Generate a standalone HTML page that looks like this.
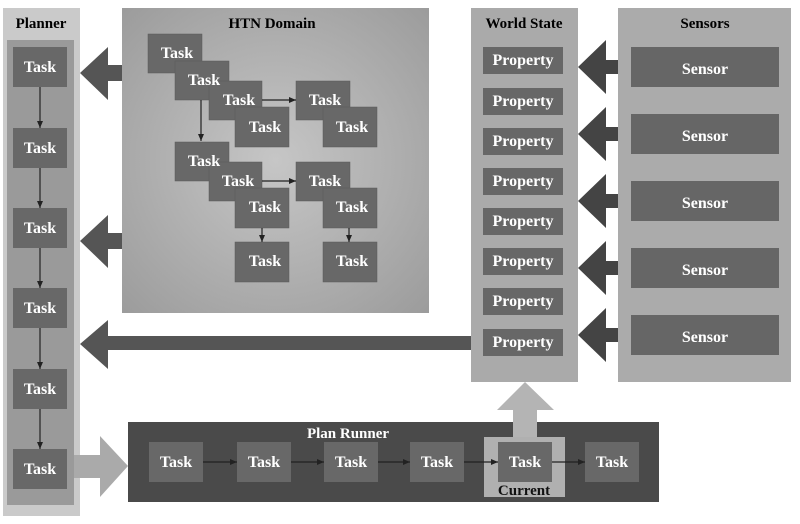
<!DOCTYPE html>
<html><head><meta charset="utf-8"><style>
body{margin:0;background:#fff;}
svg text{font-family:"Liberation Serif",serif;}
</style></head><body>
<svg width="800" height="519" viewBox="0 0 800 519" xmlns="http://www.w3.org/2000/svg">
<defs>
<radialGradient id="g1" cx="50%" cy="50%" r="70%"><stop offset="0" stop-color="#c6c6c6"/><stop offset="1" stop-color="#9c9c9c"/></radialGradient>
<marker id="a" markerWidth="8" markerHeight="8" refX="7" refY="4" orient="auto" markerUnits="userSpaceOnUse"><path d="M0,1 L7,4 L0,7z" fill="#222"/></marker>
</defs>
<!-- Planner -->
<rect x="3" y="8" width="77" height="508" fill="#cacaca"/>
<rect x="7" y="40" width="67" height="465" fill="#9a9a9a"/>
<text x="41" y="28" text-anchor="middle" font-size="15" font-weight="bold">Planner</text>
<g fill="#686868">
<rect x="13" y="47" width="54" height="40"/><rect x="13" y="128" width="54" height="40"/><rect x="13" y="208" width="54" height="40"/><rect x="13" y="288" width="54" height="40"/><rect x="13" y="369" width="54" height="40"/><rect x="13" y="449" width="54" height="40"/>
</g>
<g stroke="#222" stroke-width="1.2" marker-end="url(#a)">
<line x1="40" y1="87" x2="40" y2="128"/><line x1="40" y1="168" x2="40" y2="208"/><line x1="40" y1="248" x2="40" y2="288"/><line x1="40" y1="328" x2="40" y2="369"/><line x1="40" y1="409" x2="40" y2="449"/>
</g>
<g fill="#fff" font-size="16" text-anchor="middle" font-weight="bold">
<text x="40" y="72">Task</text><text x="40" y="153">Task</text><text x="40" y="233">Task</text><text x="40" y="313">Task</text><text x="40" y="394">Task</text><text x="40" y="474">Task</text>
</g>
<!-- HTN -->
<rect x="122" y="8" width="307" height="305" fill="url(#g1)"/>
<text x="272" y="28" text-anchor="middle" font-size="15" font-weight="bold">HTN Domain</text>
<g fill="#686868" stroke="#5a5a5a" stroke-width="0.5">
<rect x="148" y="34" width="54" height="39"/><rect x="175" y="61" width="54" height="39"/><rect x="209" y="81" width="53" height="39"/><rect x="235" y="107" width="54" height="40"/>
<rect x="296" y="81" width="54" height="39"/><rect x="323" y="107" width="54" height="40"/>
<rect x="175" y="142" width="54" height="39"/><rect x="209" y="162" width="53" height="39"/><rect x="235" y="188" width="54" height="40"/>
<rect x="296" y="162" width="54" height="39"/><rect x="323" y="188" width="54" height="40"/>
<rect x="235" y="242" width="54" height="40"/><rect x="323" y="242" width="54" height="40"/>
</g>
<g stroke="#222" stroke-width="1.2" marker-end="url(#a)">
<line x1="201" y1="100" x2="201" y2="141"/><line x1="262" y1="100" x2="296" y2="100"/><line x1="262" y1="181" x2="296" y2="181"/><line x1="262" y1="228" x2="262" y2="242"/><line x1="349" y1="228" x2="349" y2="242"/>
</g>
<g fill="#fff" font-size="16" text-anchor="middle" font-weight="bold">
<text x="177" y="58">Task</text><text x="204" y="85">Task</text><text x="239" y="105">Task</text><text x="265" y="132">Task</text>
<text x="325" y="105">Task</text><text x="352" y="132">Task</text>
<text x="204" y="166">Task</text><text x="238" y="186">Task</text><text x="265" y="212">Task</text>
<text x="325" y="186">Task</text><text x="352" y="212">Task</text>
<text x="265" y="266">Task</text><text x="352" y="266">Task</text>
</g>
<!-- big dark arrows -->
<g fill="#555">
<path d="M80,73 L108,47 L108,65 L122,65 L122,81 L108,81 L108,100z"/>
<path d="M80,241 L108,215 L108,233 L122,233 L122,249 L108,249 L108,268z"/>
<path d="M80,344 L108,320 L108,336 L471,336 L471,350 L108,350 L108,369z"/>
</g>
<!-- World State -->
<rect x="471" y="8" width="107" height="374" fill="#aaaaaa"/>
<text x="524" y="28" text-anchor="middle" font-size="15" font-weight="bold">World State</text>
<g fill="#676767">
<rect x="483" y="47" width="80" height="27"/><rect x="483" y="88" width="80" height="27"/><rect x="483" y="128" width="80" height="27"/><rect x="483" y="168" width="80" height="27"/><rect x="483" y="208" width="80" height="27"/><rect x="483" y="248" width="80" height="27"/><rect x="483" y="288" width="80" height="27"/><rect x="483" y="329" width="80" height="27"/>
</g>
<g fill="#fff" font-size="16" text-anchor="middle" font-weight="bold">
<text x="523" y="65">Property</text><text x="523" y="106">Property</text><text x="523" y="146">Property</text><text x="523" y="186">Property</text><text x="523" y="226">Property</text><text x="523" y="266">Property</text><text x="523" y="306">Property</text><text x="523" y="347">Property</text>
</g>
<!-- Sensors -->
<rect x="618" y="8" width="173" height="374" fill="#ababab"/>
<text x="705" y="28" text-anchor="middle" font-size="15" font-weight="bold">Sensors</text>
<g fill="#666">
<rect x="631" y="47" width="148" height="40"/><rect x="631" y="114" width="148" height="40"/><rect x="631" y="181" width="148" height="40"/><rect x="631" y="248" width="148" height="40"/><rect x="631" y="315" width="148" height="40"/>
</g>
<g fill="#fff" font-size="16" text-anchor="middle" font-weight="bold">
<text x="705" y="74">Sensor</text><text x="705" y="141">Sensor</text><text x="705" y="208">Sensor</text><text x="705" y="275">Sensor</text><text x="705" y="342">Sensor</text>
</g>
<g fill="#444">
<path d="M578,67 L606,40 L606,60 L618,60 L618,74 L606,74 L606,94z"/>
<path d="M578,134 L606,107 L606,127 L618,127 L618,141 L606,141 L606,161z"/>
<path d="M578,201 L606,174 L606,194 L618,194 L618,208 L606,208 L606,228z"/>
<path d="M578,268 L606,241 L606,261 L618,261 L618,275 L606,275 L606,295z"/>
<path d="M578,335 L606,308 L606,328 L618,328 L618,342 L606,342 L606,362z"/>
</g>
<!-- Plan Runner -->
<rect x="128" y="422" width="531" height="80" fill="#4a4a4a"/>
<text x="348" y="438" text-anchor="middle" font-size="15" font-weight="bold" fill="#fff">Plan Runner</text>
<rect x="484" y="437" width="81" height="60" fill="#b0b0b0"/>
<path d="M100,455 L100,436 L128,466 L100,497 L100,478 L74,478 L74,455z" fill="#aaa"/>
<path d="M525,382 L554,410 L537,410 L537,437 L513,437 L513,410 L497,410z" fill="#b4b4b4"/>
<g fill="#686868">
<rect x="149" y="442" width="54" height="40"/><rect x="237" y="442" width="54" height="40"/><rect x="324" y="442" width="54" height="40"/><rect x="410" y="442" width="54" height="40"/><rect x="498" y="442" width="54" height="40"/><rect x="585" y="442" width="54" height="40"/>
</g>
<g stroke="#222" stroke-width="1.2" marker-end="url(#a)">
<line x1="203" y1="462" x2="237" y2="462"/><line x1="291" y1="462" x2="324" y2="462"/><line x1="378" y1="462" x2="410" y2="462"/><line x1="464" y1="462" x2="498" y2="462"/><line x1="552" y1="462" x2="585" y2="462"/>
</g>
<g fill="#fff" font-size="16" text-anchor="middle" font-weight="bold">
<text x="176" y="467">Task</text><text x="264" y="467">Task</text><text x="351" y="467">Task</text><text x="437" y="467">Task</text><text x="525" y="467">Task</text><text x="612" y="467">Task</text>
</g>
<text x="524" y="495" text-anchor="middle" font-size="15" font-weight="bold" fill="#111">Current</text>
</svg>
</body></html>
